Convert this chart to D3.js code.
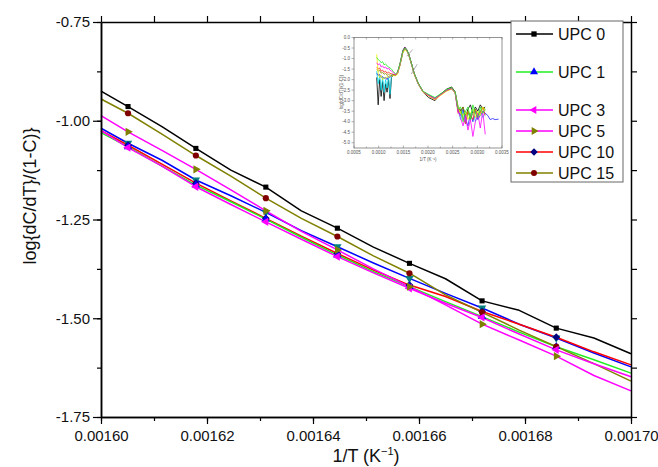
<!DOCTYPE html>
<html>
<head>
<meta charset="utf-8">
<script src="https://cdn.jsdelivr.net/npm/d3@7"></script>
<style>
  body { margin: 0; background: #fff; }
  svg { font-family: "Liberation Sans", Arial, sans-serif; }
</style>
</head>
<body>
<svg id="chart" width="658" height="467"></svg>
<script>
// main chart data, x in 1/K
let xGrid = [0.00160, 0.0016051, 0.0016115, 0.0016179, 0.0016245, 0.0016311, 0.0016378, 0.0016446,
             0.0016514, 0.0016582, 0.001665, 0.0016719, 0.0016789, 0.0016859, 0.001693, 0.00170];
let markerIdx = [1, 3, 5, 7, 9, 11, 13];

let upc0  = [-0.925, -0.964, -1.015, -1.070, -1.125, -1.168, -1.228, -1.272, -1.320, -1.361, -1.400, -1.456, -1.480, -1.525, -1.550, -1.590];
let upc1  = [-1.030, -1.066, -1.115, -1.163, -1.205, -1.249, -1.295, -1.340, -1.382, -1.420, -1.458, -1.496, -1.535, -1.572, -1.605, -1.639];
let upc2  = [-1.019, -1.057, -1.100, -1.150, -1.190, -1.232, -1.278, -1.319, -1.360, -1.399, -1.437, -1.474, -1.515, -1.550, -1.588, -1.623];
let upc3  = [-1.025, -1.068, -1.115, -1.167, -1.212, -1.256, -1.300, -1.344, -1.385, -1.424, -1.462, -1.498, -1.540, -1.580, -1.615, -1.648];
let upc5  = [-0.987, -1.028, -1.075, -1.123, -1.175, -1.228, -1.280, -1.327, -1.375, -1.420, -1.466, -1.515, -1.555, -1.596, -1.645, -1.684];
let upc10 = [-1.025, -1.062, -1.110, -1.158, -1.203, -1.247, -1.292, -1.336, -1.378, -1.416, -1.445, -1.483, -1.515, -1.548, -1.585, -1.618];
let upc15 = [-0.945, -0.981, -1.034, -1.088, -1.140, -1.196, -1.247, -1.293, -1.342, -1.386, -1.441, -1.485, -1.530, -1.572, -1.615, -1.659];

let xTickVals = [0.00160, 0.00162, 0.00164, 0.00166, 0.00168, 0.00170];
let yTickVals = [-0.75, -1.00, -1.25, -1.50, -1.75];

// inset data (full range)
let insetX = [0.00096, 0.00099, 0.00102, 0.00105, 0.00108, 0.00111, 0.00114, 0.00117, 0.00120, 0.00123, 0.00126, 0.00129,
              0.00134, 0.00138, 0.00143, 0.00149, 0.00153, 0.00157, 0.00161, 0.00166, 0.00172, 0.00180, 0.00190, 0.00201, 0.00214, 0.00224, 0.00238, 0.00248, 0.00255,
              0.00261, 0.00266, 0.00271, 0.00276, 0.00281, 0.00286, 0.00291, 0.00296, 0.00301, 0.00306, 0.00311, 0.00316,
              0.00321, 0.00326, 0.00331, 0.00336, 0.00343];
let inBlack   = [-1.9, -3.2, -2.0, -2.8, -2.1, -3.0, -2.2, -2.6, -2.0, -2.9, -1.9, -1.8,
                 -1.8, -1.7, -1.3, -0.62, -0.45, -0.58, -0.8, -1.2, -1.72, -2.2, -2.6, -2.85, -3.0, -2.72, -2.45, -2.35, -2.58,
                 -3.3, -3.5, -3.3, -3.8, -3.4, -3.2, -3.6, -3.3, -3.5, -3.2, -3.4, -3.3, null, null, null, null, null];
let inCyan    = [-1.6, -2.2, -1.8, -2.5, -1.9, -2.6, -2.0, -2.4, -1.9, -2.7, -1.8, -1.75,
                 -1.8, -1.72, -1.32, -0.7, -0.52, -0.62, -0.82, -1.22, -1.72, -2.18, -2.58, -2.72, -2.88, -2.72, -2.5, -2.42, -2.62,
                 -3.4, -3.9, -3.5, -4.1, -3.6, -3.8, -3.4, -4.0, -3.7, -3.5, -3.8, -3.6, null, null, null, null, null];
let inBlue    = [-1.7, -1.8, -1.75, -1.9, -1.85, -1.95, -1.9, -2.0, -1.85, -1.9, -1.8, -1.8,
                 -1.8, -1.72, -1.32, -0.7, -0.52, -0.62, -0.82, -1.22, -1.72, -2.18, -2.58, -2.74, -2.9, -2.74, -2.52, -2.44, -2.62,
                 -3.5, -3.7, -3.4, -3.9, -4.2, -3.6, -4.0, -3.5, -3.9, -3.7, -3.5, -3.6, -3.7, -3.9, -3.85, -3.9, -3.88];
let inRed     = [-1.4, -1.5, -1.45, -1.6, -1.55, -1.65, -1.6, -1.7, -1.65, -1.7, -1.72, -1.75,
                 -1.78, -1.7, -1.3, -0.68, -0.5, -0.6, -0.8, -1.2, -1.7, -2.17, -2.57, -2.76, -2.95, -2.76, -2.52, -2.43, -2.62,
                 -3.6, -3.4, -3.8, -4.1, -3.5, -3.7, -3.9, -3.4, -3.8, -3.6, -3.3, -3.7, null, null, null, null, null];
let inOlive   = [-1.5, -1.6, -1.55, -1.7, -1.65, -1.75, -1.7, -1.8, -1.75, -1.8, -1.78, -1.78,
                 -1.79, -1.71, -1.31, -0.69, -0.51, -0.61, -0.81, -1.21, -1.71, -2.17, -2.57, -2.74, -2.9, -2.73, -2.49, -2.4, -2.6,
                 -3.4, -3.6, -3.3, -3.7, -3.5, -3.9, -3.6, -3.4, -3.7, -3.5, -3.3, -3.4, null, null, null, null, null];
let inYellow  = [-0.8, -1.7, -1.9, -1.8, -2.0, -1.9, -1.95, -1.85, -1.9, -1.8, -1.85, -1.8,
                 -1.82, -1.75, -1.35, -0.75, -0.58, -0.65, -0.85, -1.25, -1.75, -2.2, -2.6, -2.78, -2.95, -2.78, -2.55, -2.45, -2.65,
                 -3.3, -3.6, -3.7, -3.5, -3.9, -3.6, -3.4, -3.8, -3.5, -3.7, -3.3, -3.5, null, null, null, null, null];
let inMagenta = [-1.2, -1.3, -1.25, -1.4, -1.35, -1.45, -1.4, -1.5, -1.45, -1.55, -1.6, -1.65,
                 -1.76, -1.68, -1.28, -0.66, -0.48, -0.6, -0.8, -1.2, -1.7, -2.17, -2.57, -2.75, -2.9, -2.74, -2.5, -2.42, -2.62,
                 -3.5, -3.8, -4.2, -3.7, -4.4, -3.9, -4.7, -4.0, -3.6, -4.3, -3.5, -4.6, null, null, null, null, null];
let inGreen   = [-0.95, -1.05, -1.1, -1.2, -1.15, -1.3, -1.25, -1.35, -1.4, -1.45, -1.5, -1.6,
                 -1.72, -1.65, -1.25, -0.65, -0.5, -0.58, -0.78, -1.18, -1.68, -2.15, -2.55, -2.7, -2.85, -2.7, -2.47, -2.38, -2.58,
                 -3.4, -3.3, -4.0, -3.5, -3.3, -3.9, -3.2, -3.6, -3.8, -3.3, -3.6, -3.4, null, null, null, null, null];
// the two short grey fit segments near the peak
let fitLines = [[[0.00157, -0.89], [0.00169, -0.57]], [[0.00166, -1.74], [0.00178, -1.27]]];

let inXTicks = [0.0005, 0.0010, 0.0015, 0.0020, 0.0025, 0.0030, 0.0035];
let inYTicks = [0.0, -0.5, -1.0, -1.5, -2.0, -2.5, -3.0, -3.5, -4.0, -4.5, -5.0];

// plain hyphen for negative numbers, like the original
let loc = d3.formatLocale({decimal: '.', thousands: ',', grouping: [3], currency: ['', ''], minus: '-'});

let svg = d3.select('#chart');

let x = d3.scaleLinear().domain([0.00160, 0.00170]).range([101, 631]);
let y = d3.scaleLinear().domain([-1.75, -0.75]).range([417, 22]);

let series = [
  {name: 'UPC 2',  vals: upc2,  color: '#0000ff', mark: '#008080', sym: d3.symbolTriangle, rot: 180, legend: false},
  {name: 'UPC 10', vals: upc10, color: '#ff0000', mark: '#000080', sym: d3.symbolSquare,   rot: 45,  legend: true},
  {name: 'UPC 1',  vals: upc1,  color: '#22ee22', mark: '#0000ff', sym: d3.symbolTriangle, rot: 0,   legend: true},
  {name: 'UPC 15', vals: upc15, color: '#808000', mark: '#800000', sym: d3.symbolCircle,   rot: 0,   legend: true},
  {name: 'UPC 3',  vals: upc3,  color: '#ff00ff', mark: '#ff00ff', sym: d3.symbolTriangle, rot: -90, legend: true},
  {name: 'UPC 5',  vals: upc5,  color: '#ff00ff', mark: '#808000', sym: d3.symbolTriangle, rot: 90,  legend: true},
  {name: 'UPC 0',  vals: upc0,  color: '#000000', mark: '#000000', sym: d3.symbolSquare,   rot: 0,   legend: true}
];

let line = d3.line()
  .x((d, i) => x(xGrid[i]))
  .y(d => y(d));

let plot = svg.append('g');

series.forEach(s => {
  plot.append('path')
    .attr('d', line(s.vals))
    .style('fill', 'none')
    .style('stroke', s.color)
    .style('stroke-width', '1.5px')
    .style('stroke-linejoin', 'round');
});

series.forEach(s => {
  plot.selectAll(null)
    .data(markerIdx)
    .enter()
    .append('path')
    .attr('d', d3.symbol().type(s.sym).size(s.sym == d3.symbolSquare && s.rot == 0 ? 26 : 30))
    .attr('transform', i => `translate(${x(xGrid[i])},${y(s.vals[i])}) rotate(${s.rot})`)
    .style('fill', s.mark);
});

// axes
let axisStyle = g => {
  g.selectAll('path.domain').style('stroke', '#000').style('stroke-width', '1.5px');
  g.selectAll('.tick line').style('stroke', '#000').style('stroke-width', '1.2px');
  g.selectAll('.tick text').style('font-size', '15px').style('fill', '#111').style('font-family', '"Liberation Sans", Arial, sans-serif');
};

let minorX = d3.range(0, 11).map(i => 0.0016 + i * 0.00001);
let minorY = d3.range(0, 9).map(i => -0.75 - i * 0.125);

svg.append('g')
  .attr('transform', 'translate(0,417)')
  .call(d3.axisBottom(x).tickValues(minorX).tickSize(4).tickFormat('').tickSizeOuter(0))
  .call(axisStyle);
svg.append('g')
  .attr('transform', 'translate(0,417)')
  .call(d3.axisBottom(x).tickValues(xTickVals).tickSize(7).tickPadding(6).tickFormat(loc.format('.5f')).tickSizeOuter(0))
  .call(axisStyle);

svg.append('g')
  .attr('transform', 'translate(101,0)')
  .call(d3.axisLeft(y).tickValues(minorY).tickSize(4).tickFormat('').tickSizeOuter(0))
  .call(axisStyle);
svg.append('g')
  .attr('transform', 'translate(101,0)')
  .call(d3.axisLeft(y).tickValues(yTickVals).tickSize(8).tickPadding(3).tickFormat(loc.format('.2f')).tickSizeOuter(0))
  .call(axisStyle);

svg.append('g')
  .attr('transform', 'translate(0,22)')
  .call(d3.axisTop(x).tickValues(minorX).tickSize(6).tickFormat('').tickSizeOuter(0))
  .call(axisStyle);
svg.append('g')
  .attr('transform', 'translate(631,0)')
  .call(d3.axisRight(y).tickValues(minorY).tickSize(6).tickFormat('').tickSizeOuter(0))
  .call(axisStyle);

// axis titles
let xt = svg.append('text')
  .attr('x', 366)
  .attr('y', 462)
  .attr('text-anchor', 'middle')
  .style('font-size', '18px')
  .style('fill', '#111');
xt.append('tspan').text('1/T (K');
xt.append('tspan').text('\u22121').style('font-size', '11px').attr('dy', -7);
xt.append('tspan').text(')').attr('dy', 7);

svg.append('text')
  .attr('transform', 'translate(36,196) rotate(-90)')
  .attr('text-anchor', 'middle')
  .style('font-size', '18px')
  .style('fill', '#111')
  .text('log{dC/dT}/(1-C)}');

// inset
let ix = d3.scaleLinear().domain([0.0005, 0.0035]).range([354, 502]);
let iy = d3.scaleLinear().domain([-5.25, 0]).range([148, 37.5]);

let inset = svg.append('g');
inset.append('rect')
  .attr('x', 354).attr('y', 37.5)
  .attr('width', 148).attr('height', 110.5)
  .style('fill', '#fff')
  .style('stroke', '#666')
  .style('stroke-width', '0.7px');

let inMinorX = d3.range(0, 13).map(i => 0.0005 + i * 0.00025);
inset.selectAll('line.ixt')
  .data(inMinorX)
  .enter()
  .append('line')
  .attr('x1', d => ix(d)).attr('x2', d => ix(d))
  .attr('y1', 148).attr('y2', (d, i) => i % 2 ? 146.5 : 145.5)
  .style('stroke', '#666').style('stroke-width', '0.5px');
inset.selectAll('line.ixtt')
  .data(inMinorX)
  .enter()
  .append('line')
  .attr('x1', d => ix(d)).attr('x2', d => ix(d))
  .attr('y1', 37.5).attr('y2', 39.5)
  .style('stroke', '#666').style('stroke-width', '0.5px');
inset.selectAll('line.iyt')
  .data(inYTicks)
  .enter()
  .append('line')
  .attr('x1', 354).attr('x2', 351.5)
  .attr('y1', d => iy(d)).attr('y2', d => iy(d))
  .style('stroke', '#666').style('stroke-width', '0.5px');

inset.selectAll('text.ixl')
  .data(inXTicks)
  .enter()
  .append('text')
  .attr('x', d => ix(d))
  .attr('y', 154)
  .attr('text-anchor', 'middle')
  .style('font-size', '4.5px')
  .style('fill', '#555')
  .text(d => loc.format('.4f')(d));
inset.selectAll('text.iyl')
  .data(inYTicks)
  .enter()
  .append('text')
  .attr('x', 350)
  .attr('y', d => iy(d) + 1.5)
  .attr('text-anchor', 'end')
  .style('font-size', '4.5px')
  .style('fill', '#555')
  .text(d => loc.format('.1f')(d));
inset.append('text')
  .attr('x', 428).attr('y', 161)
  .attr('text-anchor', 'middle')
  .style('font-size', '4.5px')
  .style('fill', '#555')
  .text('1/T (K\u207B\u00B9)');
inset.append('text')
  .attr('transform', 'translate(343,92) rotate(-90)')
  .attr('text-anchor', 'middle')
  .style('font-size', '4.5px')
  .style('fill', '#555')
  .text('log{dC/dT}/(1-C)}');

let inSeries = [
  {vals: inBlack, color: '#000000'},
  {vals: inCyan, color: '#00d8e8'},
  {vals: inBlue, color: '#2222ff'},
  {vals: inRed, color: '#ff2020'},
  {vals: inOlive, color: '#909000'},
  {vals: inYellow, color: '#f0f000'},
  {vals: inMagenta, color: '#ff00ff'},
  {vals: inGreen, color: '#22ee22'}
];

let inLine = d3.line()
  .defined(d => d != null)
  .x((d, i) => ix(insetX[i]))
  .y(d => iy(d));

inSeries.forEach(s => {
  inset.append('path')
    .attr('d', inLine(s.vals))
    .style('fill', 'none')
    .style('stroke', s.color)
    .style('stroke-width', '0.8px')
    .style('stroke-linejoin', 'round');
});

inset.selectAll('line.fit')
  .data(fitLines)
  .enter()
  .append('line')
  .attr('x1', d => ix(d[0][0])).attr('y1', d => iy(d[0][1]))
  .attr('x2', d => ix(d[1][0])).attr('y2', d => iy(d[1][1]))
  .style('stroke', '#777').style('stroke-width', '0.6px');

// legend
let legendItems = series.filter(s => s.legend);
let legendOrder = ['UPC 0', 'UPC 1', 'UPC 3', 'UPC 5', 'UPC 10', 'UPC 15'];
let legendY = [34, 72, 110, 131, 152, 173];

let legend = svg.append('g');
legend.append('rect')
  .attr('x', 511).attr('y', 21)
  .attr('width', 112).attr('height', 161)
  .style('fill', '#fff')
  .style('stroke', '#666')
  .style('stroke-width', '1px');

legendOrder.forEach((name, k) => {
  let s = legendItems.find(d => d.name == name);
  let ly = legendY[k];
  legend.append('line')
    .attr('x1', 516).attr('x2', 553)
    .attr('y1', ly).attr('y2', ly)
    .style('stroke', s.color)
    .style('stroke-width', '1.5px');
  legend.append('path')
    .attr('d', d3.symbol().type(s.sym).size(28))
    .attr('transform', `translate(534,${ly}) rotate(${s.rot})`)
    .style('fill', s.mark);
  legend.append('text')
    .attr('x', 558)
    .attr('y', ly + 6)
    .style('font-size', '16px')
    .style('fill', '#111')
    .text(name);
});
</script>
</body>
</html>
